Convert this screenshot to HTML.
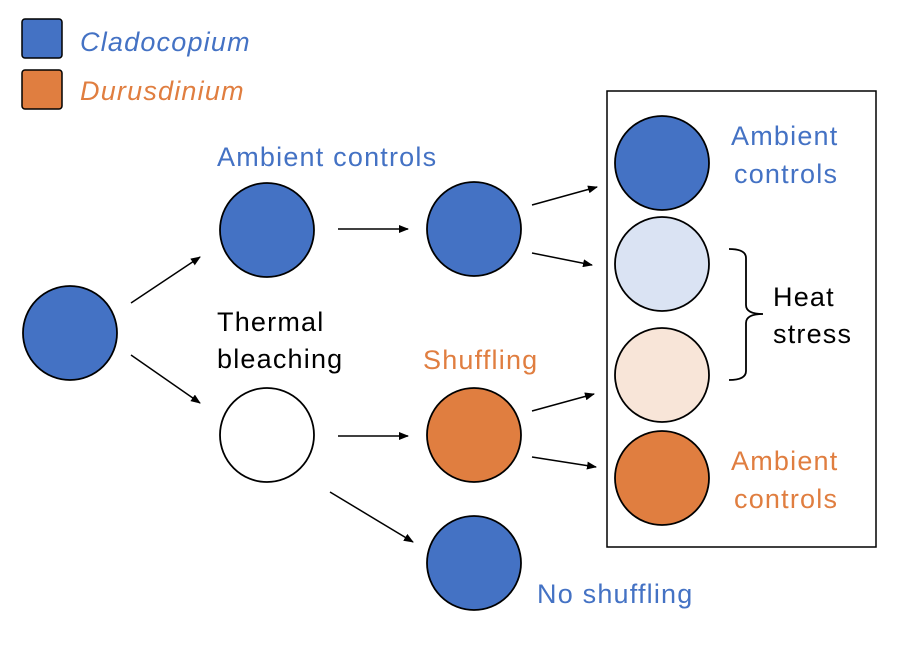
<!DOCTYPE html>
<html><head><meta charset="utf-8"><style>
body{margin:0;background:#fff;width:910px;height:648px;overflow:hidden}
svg text{font-family:"Liberation Sans",sans-serif;font-size:27px;letter-spacing:1.2px}
</style></head><body>
<svg width="910" height="648" viewBox="0 0 910 648" xmlns="http://www.w3.org/2000/svg">
<defs><marker id="a" markerWidth="10" markerHeight="8" refX="9" refY="4" orient="auto" markerUnits="userSpaceOnUse"><path d="M0,0 L10,4 L0,8 z" fill="#000"/></marker></defs>
<rect x="22" y="19" width="40" height="39" rx="3" fill="#4472C4" stroke="#000" stroke-width="1.5"/>
<rect x="22" y="70" width="40" height="39" rx="3" fill="#E07E40" stroke="#000" stroke-width="1.5"/>
<text x="80" y="51" fill="#4472C4" font-style="italic">Cladocopium</text>
<text x="80" y="100" fill="#E07E40" font-style="italic">Durusdinium</text>
<rect x="607" y="91" width="269" height="456" fill="none" stroke="#000" stroke-width="1.5"/>
<g stroke="#000" stroke-width="1.8">
<circle cx="70" cy="333" r="47" fill="#4472C4"/>
<circle cx="267" cy="230" r="47" fill="#4472C4"/>
<circle cx="267" cy="435" r="47" fill="#fff"/>
<circle cx="474" cy="229" r="47" fill="#4472C4"/>
<circle cx="474" cy="435" r="47" fill="#E07E40"/>
<circle cx="474" cy="563" r="47" fill="#4472C4"/>
<circle cx="662" cy="163" r="47" fill="#4472C4"/>
<circle cx="662" cy="264" r="47" fill="#DAE3F3"/>
<circle cx="662" cy="375" r="47" fill="#F8E5D8"/>
<circle cx="662" cy="478" r="47" fill="#E07E40"/>
</g>
<g stroke="#000" stroke-width="1.5" marker-end="url(#a)">
<line x1="131" y1="303" x2="200" y2="257"/>
<line x1="131" y1="355" x2="200" y2="403"/>
<line x1="338" y1="229" x2="408" y2="229"/>
<line x1="338" y1="436" x2="408" y2="436"/>
<line x1="330" y1="492" x2="413" y2="542"/>
<line x1="532" y1="205" x2="597" y2="187"/>
<line x1="532" y1="253" x2="592" y2="265"/>
<line x1="532" y1="411" x2="594" y2="394"/>
<line x1="532" y1="457" x2="596" y2="467"/>
</g>
<path d="M729,249 Q746,249 746,258 L746,305 Q746,314 763,314 Q746,314 746,323 L746,371 Q746,380 729,380" fill="none" stroke="#000" stroke-width="1.8"/>
<text x="217" y="166" fill="#4472C4">Ambient controls</text>
<text x="217" y="331" fill="#000">Thermal</text>
<text x="217" y="368" fill="#000">bleaching</text>
<text x="423" y="369" fill="#E07E40">Shuffling</text>
<text x="537" y="603" fill="#4472C4">No shuffling</text>
<text x="731" y="145" fill="#4472C4">Ambient</text>
<text x="734" y="183" fill="#4472C4">controls</text>
<text x="773" y="306" fill="#000">Heat</text>
<text x="773" y="343" fill="#000">stress</text>
<text x="731" y="470" fill="#E07E40">Ambient</text>
<text x="734" y="508" fill="#E07E40">controls</text>
</svg>
</body></html>
